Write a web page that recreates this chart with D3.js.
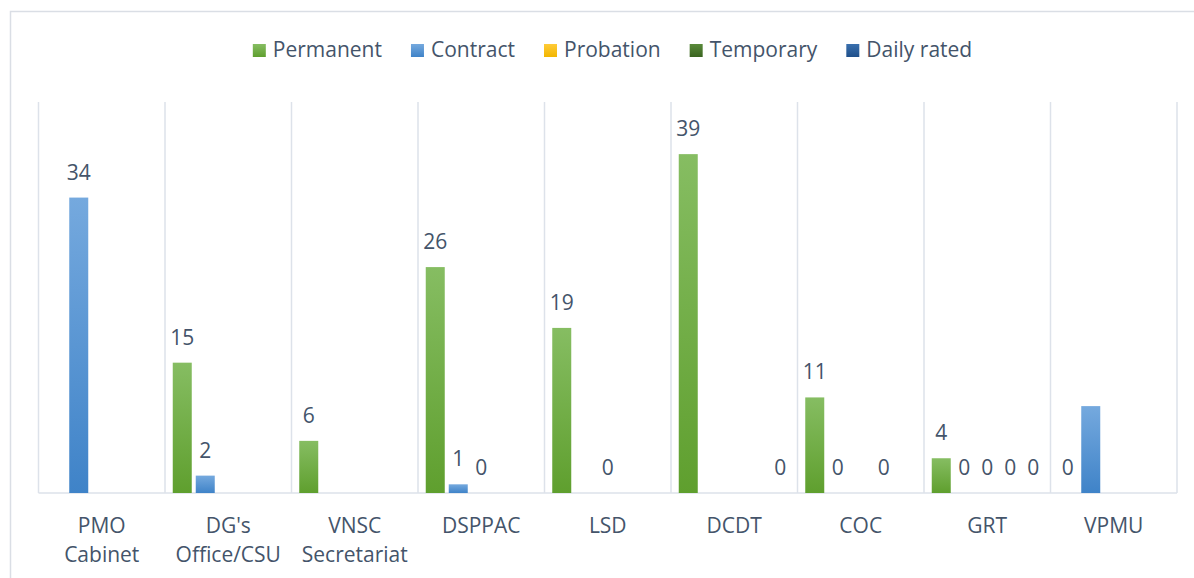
<!DOCTYPE html>
<html>
<head>
<meta charset="utf-8">
<script src="https://cdn.jsdelivr.net/npm/d3@7"></script>
<style>
  html, body { margin: 0; padding: 0; background: #ffffff; }
  svg { display: block; font-family: "Open Sans", "Noto Sans", sans-serif; }
</style>
</head>
<body>
<svg id="chart" width="1194" height="578"></svg>
<script>
// Staff counts by office and employment status
const categories = ["PMO Cabinet", "DG's Office/CSU", "VNSC Secretariat", "DSPPAC", "LSD", "DCDT", "COC", "GRT", "VPMU"];
const categoryLines = [["PMO", "Cabinet"], ["DG's", "Office/CSU"], ["VNSC", "Secretariat"], ["DSPPAC"], ["LSD"], ["DCDT"], ["COC"], ["GRT"], ["VPMU"]];
const seriesNames = ["Permanent", "Contract", "Probation", "Temporary", "Daily rated"];

const permanent  = [null, 15, 6, 26, 19, 39, 11, 4, 0];
const contract   = [34, 2, null, 1, null, null, 0, 0, 10];
const probation  = [null, null, null, 0, 0, null, null, 0, null];
const temporary  = [null, null, null, null, null, null, 0, 0, null];
const dailyRated = [null, null, null, null, null, 0, null, 0, null];

// values drawn without a data label
const unlabeled = [["Contract", "VPMU"]];

const yMax = 45;

const seriesValues = [permanent, contract, probation, temporary, dailyRated];
const seriesStyle = {
  "Permanent":   { top: "#86bd62", bottom: "#5f9f2e", key: "permanent" },
  "Contract":    { top: "#75a9de", bottom: "#3f83c8", key: "contract" },
  "Probation":   { top: "#ffcb38", bottom: "#f2b600", key: "probation" },
  "Temporary":   { top: "#5a8a3a", bottom: "#3a6420", key: "temporary" },
  "Daily rated": { top: "#3a70ae", bottom: "#1f4f8a", key: "daily" }
};

const textColor = "#44546a";
const gridColor = "#dde2ea";
const fontSize = 21;

const svg = d3.select("#chart");

const plot = { left: 38.5, right: 1177, top: 102, bottom: 493 };

// chart frame
svg.append("rect")
  .attr("x", 10.5).attr("y", 11.5)
  .attr("width", 1300).attr("height", 700)
  .attr("fill", "#ffffff")
  .attr("stroke", "#dadee5").attr("stroke-width", 1.5);

// gradients
const defs = svg.append("defs");
seriesNames.forEach(name => {
  const s = seriesStyle[name];
  const g = defs.append("linearGradient")
    .attr("id", "grad-" + s.key)
    .attr("x1", 0).attr("y1", 0).attr("x2", 0).attr("y2", 1);
  g.append("stop").attr("offset", "0%").attr("stop-color", s.top);
  g.append("stop").attr("offset", "100%").attr("stop-color", s.bottom);
});

const x0 = d3.scaleBand()
  .domain(categories)
  .range([plot.left, plot.right])
  .padding(0);

const x1 = d3.scaleBand()
  .domain(seriesNames)
  .range([0, x0.bandwidth()])
  .paddingInner(0.174)
  .paddingOuter(0.337);

const y = d3.scaleLinear()
  .domain([0, yMax])
  .range([plot.bottom, plot.top]);

// vertical category separators
const seps = categories.map(c => x0(c)).concat([plot.right]);
svg.append("g").selectAll("line")
  .data(seps)
  .join("line")
  .attr("x1", d => d).attr("x2", d => d)
  .attr("y1", plot.top).attr("y2", plot.bottom)
  .attr("stroke", gridColor).attr("stroke-width", 1.5);

// baseline
svg.append("line")
  .attr("x1", plot.left).attr("x2", plot.right)
  .attr("y1", plot.bottom).attr("y2", plot.bottom)
  .attr("stroke", gridColor).attr("stroke-width", 1.5);

// flatten data
const records = [];
seriesNames.forEach((name, si) => {
  seriesValues[si].forEach((v, ci) => {
    if (v === null) return;
    records.push({ series: name, category: categories[ci], value: v });
  });
});

const isUnlabeled = d => unlabeled.some(u => u[0] === d.series && u[1] === d.category);

// bars
svg.append("g").selectAll("rect")
  .data(records.filter(d => d.value > 0))
  .join("rect")
  .attr("x", d => x0(d.category) + x1(d.series))
  .attr("width", x1.bandwidth())
  .attr("y", d => y(d.value))
  .attr("height", d => y(0) - y(d.value))
  .attr("fill", d => "url(#grad-" + seriesStyle[d.series].key + ")");

// data labels
svg.append("g").selectAll("text")
  .data(records.filter(d => !isUnlabeled(d)))
  .join("text")
  .attr("x", d => x0(d.category) + x1(d.series) + x1.bandwidth() / 2)
  .attr("y", d => y(d.value) - 18)
  .attr("text-anchor", "middle")
  .attr("font-size", fontSize)
  .attr("fill", textColor)
  .text(d => d.value);

// category axis labels
const axisG = svg.append("g");
categories.forEach((c, i) => {
  const t = axisG.append("text")
    .attr("x", x0(c) + x0.bandwidth() / 2)
    .attr("y", 533)
    .attr("text-anchor", "middle")
    .attr("font-size", fontSize)
    .attr("fill", textColor);
  categoryLines[i].forEach((line, li) => {
    t.append("tspan")
      .attr("x", x0(c) + x0.bandwidth() / 2)
      .attr("dy", li === 0 ? 0 : 29)
      .text(line);
  });
});

// legend
const legend = svg.append("g");
const sq = 13, sqGap = 7, itemGap = 29;
let cursor = 0;
seriesNames.forEach(name => {
  const g = legend.append("g");
  g.append("rect")
    .attr("x", 0).attr("y", -13)
    .attr("width", sq).attr("height", sq)
    .attr("fill", "url(#grad-" + seriesStyle[name].key + ")");
  const t = g.append("text")
    .attr("x", sq + sqGap).attr("y", 0)
    .attr("font-size", fontSize)
    .attr("fill", textColor)
    .text(name);
  const w = sq + sqGap + t.node().getComputedTextLength();
  g.attr("transform", `translate(${cursor},0)`);
  cursor += w + itemGap;
});
const legendWidth = cursor - itemGap;
legend.attr("transform", `translate(${612.5 - legendWidth / 2},57)`);
</script>
</body>
</html>
